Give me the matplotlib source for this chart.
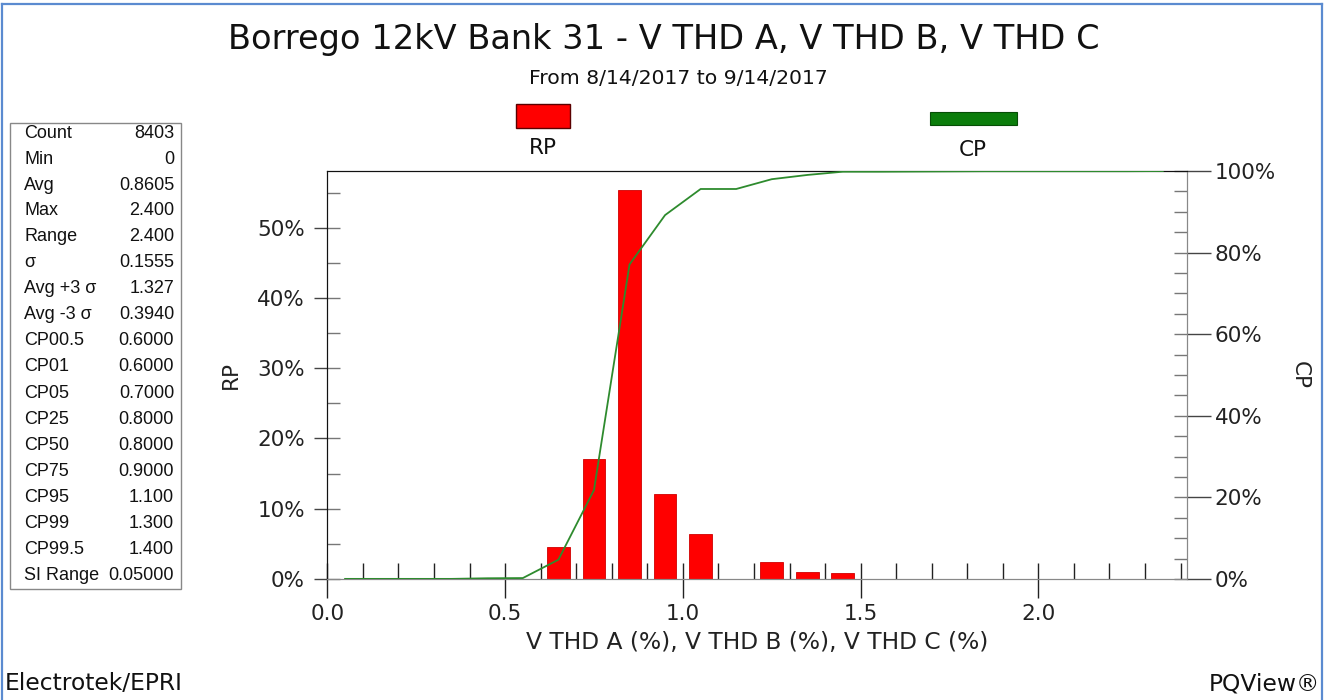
import matplotlib
matplotlib.use("Agg")
import matplotlib.pyplot as plt
import numpy as np
from matplotlib.patches import Rectangle
from matplotlib.lines import Line2D
from matplotlib.ticker import MultipleLocator, FuncFormatter

# Histogram bins (SI range 0.05 -> bins of 0.1 centred on x.x5)
bin_centers = [0.05, 0.15, 0.25, 0.35, 0.45, 0.55, 0.65, 0.75, 0.85, 0.95,
               1.05, 1.15, 1.25, 1.35, 1.45, 1.55, 1.65, 1.75, 1.85, 1.95,
               2.05, 2.15, 2.25, 2.35]
# Relative probability per bin (%)
rp_values = [0.03, 0.0, 0.0, 0.0, 0.15, 0.05, 4.5, 17.06, 55.3, 12.1,
             6.4, 0.0, 2.4, 1.04, 0.8, 0.0, 0.04, 0.04, 0.04, 0.0,
             0.0, 0.0, 0.0, 0.04]

stat_names = ["Count", "Min", "Avg", "Max", "Range", "\u03c3", "Avg +3 \u03c3",
              "Avg -3 \u03c3", "CP00.5", "CP01", "CP05", "CP25", "CP50", "CP75",
              "CP95", "CP99", "CP99.5", "SI Range"]
stat_values = ["8403", "0", "0.8605", "2.400", "2.400", "0.1555", "1.327",
               "0.3940", "0.6000", "0.6000", "0.7000", "0.8000", "0.8000",
               "0.9000", "1.100", "1.300", "1.400", "0.05000"]

title = "Borrego 12kV Bank 31 - V THD A, V THD B, V THD C"
subtitle = "From 8/14/2017 to 9/14/2017"
xlabel = "V THD A (%), V THD B (%), V THD C (%)"

RED = "#ff0000"
GREEN_LINE = "#2e8b2e"
GREEN_PATCH = "#0b7d0b"
FONT = "DejaVu Sans"

W, H = 1326, 700
fig = plt.figure(figsize=(W / 100, H / 100), dpi=100)
fig.patch.set_facecolor("white")


def fx(px):
    return px / W


def fy(py):
    return 1 - py / H


# Plot area
left, right, top, bottom = 327.3, 1187.0, 171.0, 579.0
ax = fig.add_axes([fx(left), fy(bottom), fx(right - left), (bottom - top) / H])
ax2 = ax.twinx()

cp_values = np.cumsum(rp_values)

ax.bar(bin_centers, rp_values, width=0.064, color=RED, edgecolor="#d00000",
       linewidth=0.6, zorder=2)
ax2.plot(bin_centers, cp_values, color=GREEN_LINE, linewidth=1.3, zorder=3,
         clip_on=True)

ax.set_xlim(0, 2.418)
ax.set_ylim(0, 58.06)
ax2.set_ylim(0, 100)

# x ticks: labelled every 0.5, small inward ticks every 0.1
ax.xaxis.set_major_locator(MultipleLocator(0.5))
ax.xaxis.set_minor_locator(MultipleLocator(0.1))
ax.xaxis.remove_overlapping_locs = False
ax.xaxis.set_major_formatter(FuncFormatter(lambda v, p: f"{v:.1f}"))
ax.tick_params(axis="x", which="major", direction="out", length=14,
               width=1.0, color="#222222", labelsize=15.5, pad=4)
ax.tick_params(axis="x", which="minor", direction="in", length=11.5,
               width=1.0, color="#222222")

# left RP axis
ax.yaxis.set_major_locator(MultipleLocator(10))
ax.yaxis.set_minor_locator(MultipleLocator(5))
ax.yaxis.remove_overlapping_locs = False
ax.yaxis.set_major_formatter(FuncFormatter(lambda v, p: f"{v:.0f}%"))
ax.tick_params(axis="y", which="major", direction="out", length=9.5,
               width=1.0, color="#444444", labelsize=15.5, pad=6.5)
ax.tick_params(axis="y", which="minor", direction="in", length=9.5,
               width=1.0, color="#777777")

# right CP axis
ax2.yaxis.set_major_locator(MultipleLocator(20))
ax2.yaxis.set_minor_locator(MultipleLocator(5))
ax2.yaxis.remove_overlapping_locs = False
ax2.yaxis.set_major_formatter(FuncFormatter(lambda v, p: f"{v:.0f}%"))
ax2.tick_params(axis="y", which="major", direction="out", length=17.5,
                width=1.0, color="#444444", labelsize=15.5, pad=2.5)
ax2.tick_params(axis="y", which="minor", direction="in", length=9.5,
                width=1.0, color="#777777")

for a in (ax, ax2):
    a.spines["left"].set_color("#111111")
    a.spines["top"].set_color("#111111")
    a.spines["bottom"].set_color("#888888")
    a.spines["right"].set_color("#888888")
    a.set_facecolor("none")
    for lab in a.get_xticklabels() + a.get_yticklabels():
        lab.set_fontfamily(FONT)
        lab.set_color("#222222")

ax.set_ylabel("RP", fontsize=15.5, fontfamily=FONT, color="#222222", labelpad=12)
ax2.set_ylabel("CP", fontsize=15.5, fontfamily=FONT, color="#222222",
               rotation=270, labelpad=24)
ax.set_xlabel(xlabel, fontsize=16.8, fontfamily=FONT, color="#222222",
              labelpad=5)

# Titles
fig.text(fx(664), fy(40), title, ha="center", va="center", fontsize=24.2,
         fontfamily=FONT, color="#111111")
fig.text(fx(678), fy(78), subtitle, ha="center", va="center", fontsize=14.7,
         fontfamily=FONT, color="#111111")

# Legend keys above the plot
fig.add_artist(Rectangle((fx(516), fy(128)), fx(54), 24 / H,
                         facecolor=RED, edgecolor="#5a0000", linewidth=1.0,
                         transform=fig.transFigure))
fig.add_artist(Rectangle((fx(930), fy(125)), fx(87), 13 / H,
                         facecolor=GREEN_PATCH, edgecolor="#064d06",
                         linewidth=0.8, transform=fig.transFigure))
fig.text(fx(543), fy(148), "RP", ha="center", va="center", fontsize=15.5,
         fontfamily=FONT, color="#111111")
fig.text(fx(973), fy(150), "CP", ha="center", va="center", fontsize=15.5,
         fontfamily=FONT, color="#111111")

# Statistics table
fig.add_artist(Rectangle((fx(10), fy(589)), fx(171), 466 / H,
                         facecolor="white", edgecolor="#888888",
                         linewidth=1.0, transform=fig.transFigure))
row0, step = 133.0, 26.0
for i, (name, val) in enumerate(zip(stat_names, stat_values)):
    yy = fy(row0 + i * step)
    fig.text(fx(24), yy, name, ha="left", va="center", fontsize=13,
             fontfamily="Liberation Sans", color="#111111")
    fig.text(fx(174), yy, val, ha="right", va="center", fontsize=13,
             fontfamily="Liberation Sans", color="#111111")

# Footer
fig.text(fx(5), fy(684), "Electrotek/EPRI", ha="left", va="center",
         fontsize=16.8, fontfamily=FONT, color="#111111")
fig.text(fx(1320), fy(684), "PQView\u00ae", ha="right", va="center",
         fontsize=16.8, fontfamily=FONT, color="#111111")

# Frame around the chart
frame = "#5b8bd0"
fig.add_artist(Line2D([fx(2), fx(2)], [0, fy(4)], color=frame, linewidth=1.6,
                      transform=fig.transFigure))
fig.add_artist(Line2D([fx(1322), fx(1322)], [0, fy(4)], color=frame,
                      linewidth=1.6, transform=fig.transFigure))
fig.add_artist(Line2D([fx(2), fx(1322)], [fy(4), fy(4)], color=frame,
                      linewidth=1.6, transform=fig.transFigure))

fig.savefig("out.png", dpi=100, facecolor="white")
